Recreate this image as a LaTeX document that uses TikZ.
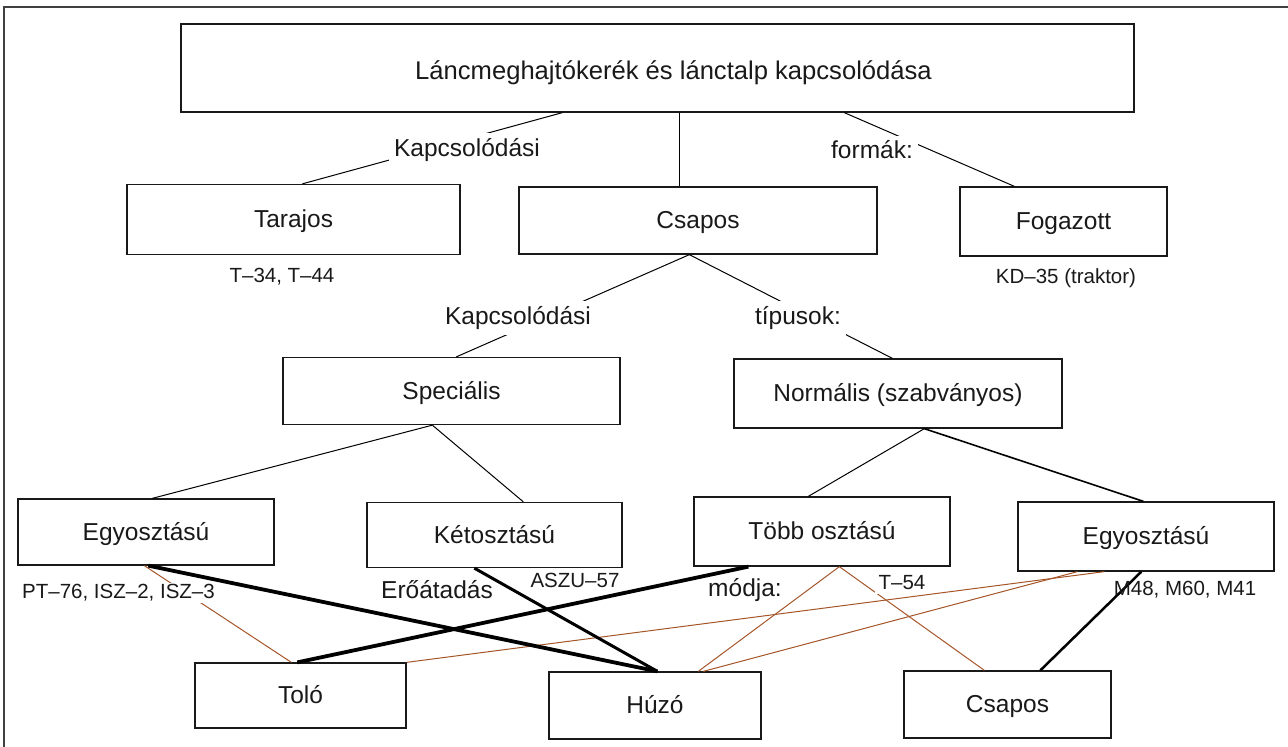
\documentclass[tikz,border=0pt]{standalone}
\usepackage{fontspec}
\setmainfont{Liberation Sans}
\definecolor{brn}{RGB}{165,85,40}
\definecolor{ink}{RGB}{25,25,25}
\begin{document}
\begin{tikzpicture}[x=1pt,y=-1pt,
  box/.style={draw=ink, line width=1.3pt, inner sep=0pt, text=ink, text height=20pt, text depth=4pt, font=\fontsize{24.5}{28}\selectfont},
  lbl/.style={text=ink, inner sep=3pt, font=\fontsize{20.5}{24}\selectfont},
  blbl/.style={text=ink, fill=white, inner sep=5pt, font=\fontsize{24.5}{28}\selectfont},
  wlbl/.style={lbl, fill=white},
  conn/.style={draw=black, line width=1pt},
  heavy/.style={draw=black, line width=3.8pt},
  bline/.style={draw=brn, line width=1pt}]
\useasboundingbox (0,0) rectangle (1288,747);
\draw[line width=1.5pt, draw=black!75] (4,747) -- (4,7) -- (1288,7);

% boxes
\node[box, minimum width=953pt, minimum height=88pt, text height=26pt, text depth=4pt, font=\fontsize{25.6}{30}\selectfont] (top) at (657.5,68) {\hspace*{32pt}Láncmeghajtókerék és lánctalp kapcsolódása};
\node[box, minimum width=333pt, minimum height=70pt] (tar) at (293.5,219.5) {Tarajos};
\node[box, minimum width=358pt, minimum height=67pt] (csa) at (698,220.5) {Csapos};
\node[box, minimum width=207pt, minimum height=69pt] (fog) at (1063.5,221.5) {Fogazott};
\node[box, minimum width=337pt, minimum height=67pt] (spe) at (451.5,391) {Speciális};
\node[box, minimum width=328pt, minimum height=69pt] (nor) at (898,393.5) {Normális (szabványos)};
\node[box, minimum width=256pt, minimum height=66pt] (egyl) at (146,532) {Egyosztású};
\node[box, minimum width=255pt, minimum height=65pt] (ket) at (494.5,535) {Kétosztású};
\node[box, minimum width=256pt, minimum height=69pt] (tob) at (822,531.5) {Több osztású};
\node[box, minimum width=256pt, minimum height=69pt] (egyr) at (1146,536.5) {Egyosztású};
\node[box, minimum width=211pt, minimum height=65pt] (tol) at (300.5,695.5) {Toló};
\node[box, minimum width=212pt, minimum height=67pt] (huz) at (655,705.5) {Húzó};
\node[box, minimum width=207pt, minimum height=67pt] (csb) at (1007.5,704.5) {Csapos};

% upper connectors
\draw[conn] ([xshift=382pt]top.south west) -- ([xshift=176pt]tar.north west);
\draw[conn] ([xshift=499pt]top.south west) -- ([xshift=161pt]csa.north west);
\draw[conn] ([xshift=664pt]top.south west) -- ([xshift=55pt]fog.north west);
\draw[conn] ([xshift=171pt]csa.south west) -- ([xshift=174pt]spe.north west);
\draw[conn] ([xshift=171pt]csa.south west) -- ([xshift=159pt]nor.north west);
\draw[conn] ([xshift=150pt]spe.south west) -- ([xshift=135pt]egyl.north west);
\draw[conn] ([xshift=150pt]spe.south west) -- ([xshift=157pt]ket.north west);
\draw[conn] ([xshift=191pt]nor.south west) -- ([xshift=115pt]tob.north west);
\draw[conn, line width=1.6pt] ([xshift=191pt]nor.south west) -- ([xshift=126pt]egyr.north west);

% lower connectors
\draw[bline] ([xshift=127pt]egyl.south west) -- ([xshift=97pt]tol.north west);
\draw[bline] (tol.north east) -- ([xshift=87pt]egyr.south west);
\draw[bline] ([xshift=155pt]huz.north west) -- ([xshift=60pt]egyr.south west);
\draw[bline] ([xshift=146pt]tob.south west) -- ([xshift=150pt]huz.north west);
\draw[bline] ([xshift=146pt]tob.south west) -- ([xshift=81pt]csb.north west);
\draw[heavy] ([xshift=131pt]egyl.south west) -- ([xshift=109pt]huz.north west);
\draw[heavy, line width=3pt] ([xshift=108pt]ket.south west) -- ([xshift=109pt]huz.north west);
\draw[heavy] ([xshift=55pt]tob.south west) -- ([xshift=103pt]tol.north west);
\draw[heavy, line width=2.5pt] ([xshift=124pt]egyr.south west) -- ([xshift=137pt]csb.north west);

% labels
\node[blbl] (l1) at (467,150) {Kapcsolódási};
\node[blbl] (l2) at (872,150) {formák:};
\node[blbl] (l3) at (518,318) {Kapcsolódási};
\node[blbl] (l4) at (798,318) {típusok:};
\node[lbl] (l5) at (282,277) {T–34, T–44};
\node[lbl] (l6) at (1066,278) {KD–35 (traktor)};
\node[wlbl, anchor=west, inner sep=2pt] (l7) at (20,593) {PT–76, ISZ–2, ISZ–3};
\node[blbl, fill=none, inner sep=3pt] (l8) at (437,590) {Erőátadás};
\node[lbl] (l9) at (575,580) {ASZU–57};
\node[blbl, fill=none, inner sep=3pt] (l10) at (745,590) {módja:};
\node[wlbl, inner sep=4pt] (l11) at (902,583) {T–54};
\node[lbl] (l12) at (1185,590) {M48, M60, M41};
\end{tikzpicture}
\end{document}
